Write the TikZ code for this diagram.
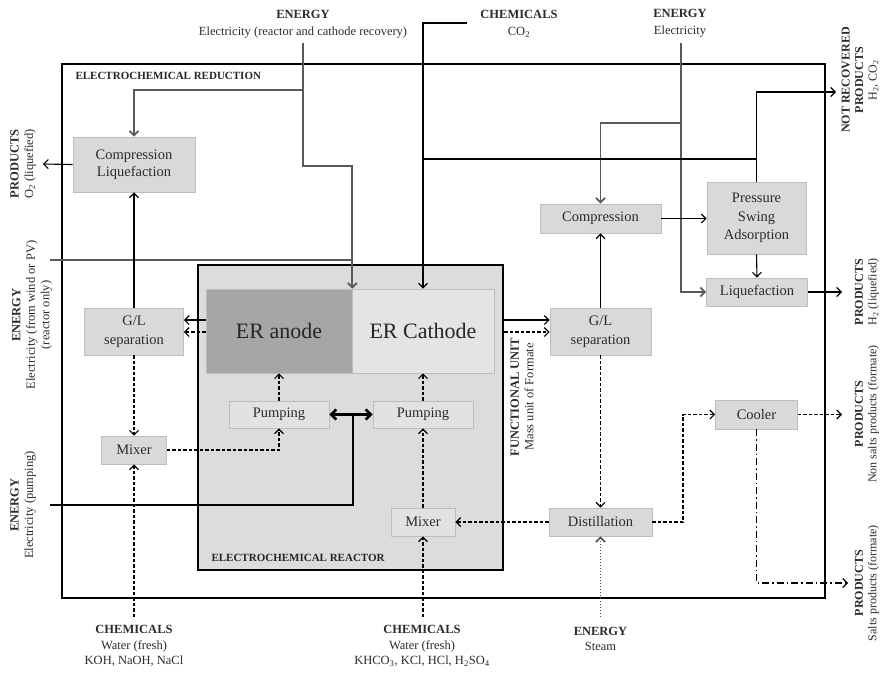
\documentclass[tikz,border=0pt]{standalone}
\usepackage{fontspec}
\setmainfont{Liberation Serif}
\usetikzlibrary{arrows.meta}

\definecolor{boxfill}{HTML}{D9D9D9}
\definecolor{boxline}{HTML}{BDBDBD}
\definecolor{anodefill}{HTML}{A6A6A6}
\definecolor{cathodefill}{HTML}{E4E4E4}
\definecolor{reactorfill}{HTML}{DCDCDC}
\definecolor{pumpfill}{HTML}{E2E2E2}
\definecolor{energyline}{HTML}{5A5A5A}
\definecolor{txt}{HTML}{2B2B2B}

\tikzset{
  tip/.style={-{Straight Barb[length=4.5pt,width=9pt]}},
  bothtips/.style={{Straight Barb[length=5pt,width=10pt]}-{Straight Barb[length=5pt,width=10pt]}},
  unit/.style={draw=boxline, fill=boxfill, line width=0.9pt, inner sep=0pt,
    align=center, font=\fontsize{14.5}{18}\selectfont, text=txt},
  inunit/.style={unit, fill=pumpfill},
  flow/.style={line width=1.1pt, draw=black},
  liquid/.style={flow, dash pattern=on 3.5pt off 2pt},
  heat/.style={line width=1.5pt, draw=black!70, dash pattern=on 1.5pt off 1.5pt},
  salt/.style={flow, dash pattern=on 7pt off 3pt on 1.5pt off 3pt},
  power/.style={line width=1.8pt, draw=energyline},
  pumppower/.style={line width=2.6pt, draw=black},
  frame/.style={draw=black, line width=2.4pt, inner sep=0pt},
  caption/.style={anchor=west, font=\bfseries\fontsize{11}{13}\selectfont, text=black!85},
  label/.style={align=center, font=\fontsize{12.5}{17}\selectfont, text=txt},
  lowlabel/.style={align=center, font=\fontsize{12.5}{15.5}\selectfont, text=txt},
  sidelabel/.style={align=center, rotate=90, inner sep=1pt, font=\fontsize{12.5}{14.5}\selectfont, text=txt},
  rightlabel/.style={sidelabel, font=\fontsize{12}{13.5}\selectfont},
}

\begin{document}
\begin{tikzpicture}[x=1pt,y=-1pt]
\useasboundingbox (0,0) rectangle (882,673);

% system boundary and reactor
\node[frame, minimum width=763pt, minimum height=534pt] (reduction) at (443.5,331) {};
\node[caption] (reductioncap) at (72,76) {ELECTROCHEMICAL REDUCTION};
\node[frame, fill=reactorfill, minimum width=305pt, minimum height=305pt] (reactor) at (350.5,417.5) {};
\node[caption] (reactorcap) at (208,558) {ELECTROCHEMICAL REACTOR};

% electrodes
\node[fill=anodefill, draw=boxline, line width=0.6pt, inner sep=0pt, minimum width=146pt,
  minimum height=84pt, font=\fontsize{22}{24}\selectfont, text=black!85] (anode) at (279,331) {ER anode};
\node[fill=cathodefill, draw=boxline, line width=0.6pt, inner sep=0pt, minimum width=142pt,
  minimum height=84pt, font=\fontsize{22}{24}\selectfont, text=black!85] (cathode) at (423,331) {ER Cathode};

% process units
\node[unit, minimum width=122pt, minimum height=55pt, font=\fontsize{14.5}{17}\selectfont] (compL) at (134,164.5) {Compression\\Liquefaction};
\node[unit, minimum width=99pt, minimum height=47pt, font=\fontsize{14.5}{19}\selectfont] (glL) at (134,331.5) {G/L\\separation};
\node[unit, minimum width=65pt, minimum height=28pt] (mixL) at (134,450) {Mixer};
\node[inunit, minimum width=100pt, minimum height=27pt] (pumpL) at (279,414.5) {Pumping};
\node[inunit, minimum width=100pt, minimum height=27pt] (pumpR) at (423,414.5) {Pumping};
\node[inunit, minimum width=64pt, minimum height=28pt] (mixR) at (423,522) {Mixer};
\node[unit, minimum width=121pt, minimum height=29pt] (compR) at (600.5,218.5) {Compression};
\node[unit, minimum width=99pt, minimum height=72pt, font=\fontsize{14.5}{18.5}\selectfont] (psa) at (756.5,218) {Pressure\\Swing\\Adsorption};
\node[unit, minimum width=101pt, minimum height=28pt] (liq) at (757,292) {Liquefaction};
\node[unit, minimum width=101pt, minimum height=47pt, font=\fontsize{14.5}{19}\selectfont] (glR) at (600.5,331.5) {G/L\\separation};
\node[unit, minimum width=103pt, minimum height=28pt] (dist) at (600.5,522) {Distillation};
\node[unit, minimum width=82pt, minimum height=29pt] (cool) at (756.5,414.5) {Cooler};

% inputs and outputs
\node[label] (inERC) at (303,24) {\textbf{ENERGY}\\Electricity (reactor and cathode recovery)};
\node[label] (inCO2) at (519,24) {\textbf{CHEMICALS}\\CO\textsubscript{2}};
\node[label] (inEl) at (680,23) {\textbf{ENERGY}\\Electricity};
\node[lowlabel] (inAn) at (134,646) {\textbf{CHEMICALS}\\Water (fresh)\\KOH, NaOH, NaCl};
\node[lowlabel] (inCat) at (422,646) {\textbf{CHEMICALS}\\Water (fresh)\\KHCO\textsubscript{3}, KCl, HCl, H\textsubscript{2}SO\textsubscript{4}};
\node[lowlabel] (inSteam) at (600.5,639) {\textbf{ENERGY}\\Steam};
\node[sidelabel] (outO2) at (23,164) {\textbf{PRODUCTS}\\O\textsubscript{2} (liquefied)};
\node[sidelabel] (inWind) at (32,315) {\textbf{ENERGY}\\Electricity (from wind or PV)\\(reactor only)};
\node[sidelabel] (inPump) at (23,505) {\textbf{ENERGY}\\Electricity (pumping)};
\node[rightlabel] (outNR) at (860,80) {\textbf{NOT RECOVERED}\\\textbf{PRODUCTS}\\H\textsubscript{2}, CO\textsubscript{2}};
\node[rightlabel] (outH2) at (867,292) {\textbf{PRODUCTS}\\H\textsubscript{2} (liquefied)};
\node[rightlabel] (outNS) at (867,414) {\textbf{PRODUCTS}\\Non salts products (formate)};
\node[rightlabel] (outS) at (867,583) {\textbf{PRODUCTS}\\Salts products (formate)};
\node[sidelabel] (fu) at (522,397) {\textbf{FUNCTIONAL UNIT}\\Mass unit of Formate};

% connector end points and bends
\coordinate (eRC) at (303,43);
\coordinate (eRCsplit) at (303,90);
\coordinate (eRCturn) at (303,166);
\coordinate (eWind) at (50,260);
\coordinate (co2) at (467,23);
\coordinate (eEl) at (681,43);
\coordinate (eElsplit) at (681,123);
\coordinate (recycle) at (0,159);
\coordinate (nrOut) at (836,92);
\coordinate (h2Out) at (842,292);
\coordinate (o2Out) at (43,164);
\coordinate (gasY) at (0,320);
\coordinate (liqY) at (0,332);
\coordinate (chemA) at (134,617);
\coordinate (chemC) at (423,617);
\coordinate (steam) at (600.5,617);
\coordinate (coolTurn) at (683,522);
\coordinate (nsOut) at (842,414.5);
\coordinate (sOut) at (848,583);
\coordinate (ePump) at (50,505);
\coordinate (pumpJoin) at (353,414.5);

% electricity
\draw[power, tip] (eRC) -- (eRCturn) -| (anode.north east);
\draw[power, tip] (eRCsplit) -| (compL.north);
\draw[power] (eWind) -- (anode.north east |- eWind);
\draw[power, tip] (eEl) |- (liq.west);
\draw[power, tip] (eElsplit) -| (compR.north);
\draw[pumppower] (ePump) -| (pumpJoin);
\draw[pumppower, bothtips] (pumpL.east) -- (pumpR.west);

% gas side
\draw[flow, line width=1.3pt, tip] (co2) -| (cathode.north);
\draw[flow, tip] (psa.north) |- (nrOut);
\draw[flow] (psa.north |- recycle) -- (cathode.north |- recycle);
\draw[flow, tip] (compR.east) -- (compR.east -| psa.west);
\draw[flow, tip] (psa.south) -- (liq.north);
\draw[flow, tip] (liq.east) -- (h2Out);
\draw[flow, tip] (glR.north) -- (compR.south);
\draw[flow, tip] (reactor.east |- gasY) -- (glR.west |- gasY);
\draw[flow, tip] (anode.west |- gasY) -- (glL.east |- gasY);
\draw[flow, tip] (glL.north) -- (compL.south);
\draw[flow, tip] (compL.west) -- (o2Out);

% liquid side
\draw[liquid, tip] (reactor.east |- liqY) -- (glR.west |- liqY);
\draw[liquid, tip] (anode.west |- liqY) -- (glL.east |- liqY);
\draw[liquid, tip] (glL.south) -- (mixL.north);
\draw[liquid, tip] (mixL.east) -| (pumpL.south);
\draw[liquid, tip] (pumpL.north) -- (anode.south);
\draw[liquid, tip] (pumpR.north) -- (cathode.south);
\draw[liquid, tip] (mixR.north) -- (pumpR.south);
\draw[liquid, tip] (dist.west) -- (mixR.east);
\draw[liquid, tip] (chemA) -- (mixL.south);
\draw[liquid, tip] (chemC) -- (mixR.south);
\draw[liquid, tip] (glR.south) -- (dist.north);
\draw[liquid, tip] (dist.east) -- (coolTurn) |- (cool.west);
\draw[liquid, tip] (cool.east) -- (nsOut);
\draw[salt, tip] (cool.south) |- (sOut);
\draw[heat, tip] (steam) -- (dist.south);

\end{tikzpicture}
\end{document}
